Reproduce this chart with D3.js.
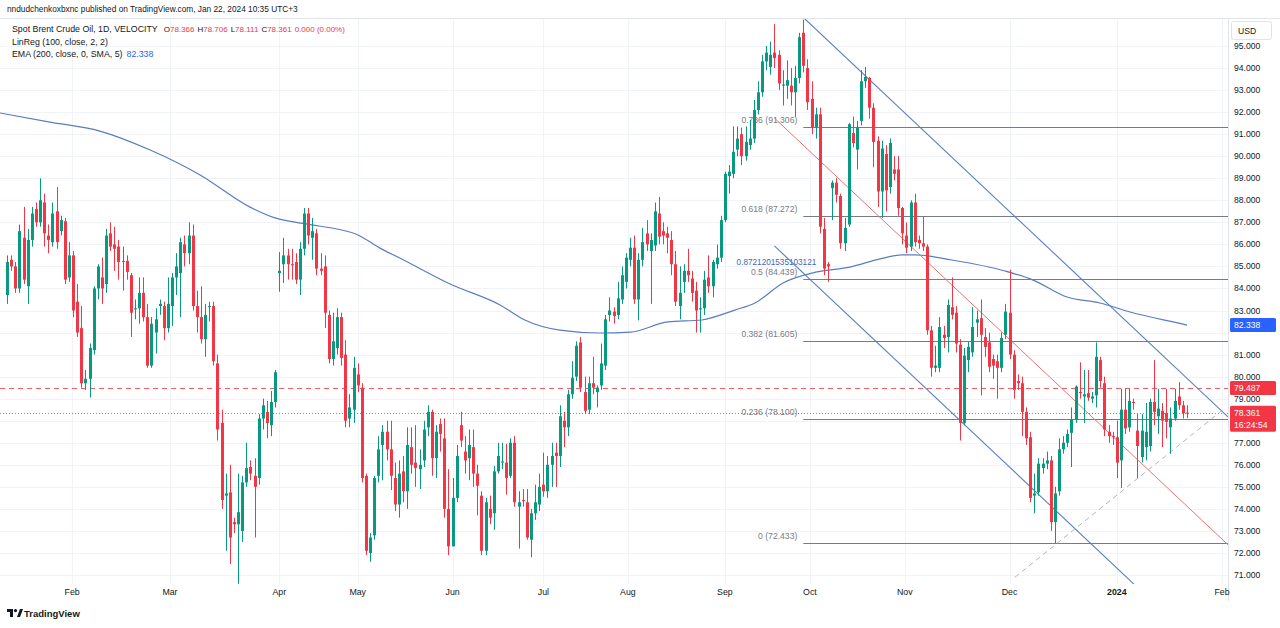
<!DOCTYPE html>
<html><head><meta charset="utf-8">
<script src="https://cdn.jsdelivr.net/npm/d3@7"></script>
<style>
html,body{margin:0;padding:0;background:#fff;}
svg{display:block;font-family:"Liberation Sans",Arial,sans-serif;}
</style></head><body>
<svg id="c" width="1280" height="628"></svg>
<script>
// ---------------- DATA ----------------
// daily candles [open, high, low, close]
const ohlc = [
[83.7,85.5,83.3,85.2],[85.3,85.5,84.8,85.0],[85.0,85.2,83.8,84.0],[84.0,86.9,83.8,86.6],[86.3,87.7,84.2,84.4],
[84.1,86.7,83.3,86.2],[86.2,87.7,85.9,87.4],[87.6,87.9,86.8,87.0],[87.0,89.0,86.8,88.0],[87.9,88.3,85.9,86.5],
[86.4,86.9,85.6,86.2],[86.1,87.9,85.9,87.4],[87.5,88.6,85.8,86.1],[86.6,87.3,86.4,87.1],[87.05,87.2,84.2,84.4],
[84.5,86.1,84.3,85.5],[85.5,85.7,82.7,83.0],[83.4,84.2,81.8,82.0],[82.2,83.2,79.5,79.7],[79.7,80.3,79.4,79.9],
[79.9,81.5,79.05,81.3],[81.2,84.1,81.0,84.0],[84.0,85.1,83.5,85.0],[84.5,85.4,83.3,84.0],[84.2,86.7,83.8,86.4],
[86.5,87.0,85.7,85.9],[86.0,86.8,84.8,85.8],[85.9,86.2,84.4,85.2],[85.25,85.9,83.9,85.25],[85.25,85.5,84.4,84.75],
[84.6,84.7,81.8,82.9],[83.1,83.5,82.6,83.1],[83.1,84.5,82.4,83.8],[83.8,84.5,82.5,82.7],[82.7,83.3,80.4,80.5],
[80.5,82.7,80.4,82.4],[82.0,83.1,81.05,82.6],[83.2,83.5,82.8,83.3],[83.2,83.4,81.65,82.2],[82.2,84.5,82.0,83.3],
[83.2,84.7,82.3,84.5],[84.5,85.6,83.7,85.0],[84.7,86.3,82.7,86.1],[86.0,86.4,85.0,85.6],[85.6,87.0,85.1,86.4],
[86.4,86.9,83.0,83.2],[83.2,83.9,82.0,82.7],[82.7,84.1,81.5,81.7],[81.7,83.3,80.9,82.8],[83.2,83.4,82.5,83.2],
[83.2,83.4,80.5,80.7],[80.6,81.0,77.1,77.6],[77.9,78.5,74.0,74.4],[74.6,75.6,72.1,74.7],[74.75,76.0,71.5,72.7],
[73.4,73.6,72.9,73.3],[73.3,75.6,70.6,73.85],[73.0,75.5,72.5,75.2],[75.2,77.0,75.0,75.85],[75.9,76.2,75.3,75.6],
[75.5,76.3,72.7,75.0],[75.4,78.3,75.1,78.1],[78.1,79.0,77.6,78.7],[78.4,78.9,77.2,77.9],[77.8,79.35,77.3,78.85],
[78.85,80.3,78.6,80.2],[84.7,85.65,83.85,84.8],[85.1,86.3,84.25,85.5],[85.5,85.8,84.4,85.1],[85.1,85.8,84.4,85.05],
[85.2,85.6,84.2,84.4],[84.4,86.1,83.7,85.8],[85.8,87.65,85.5,87.4],[87.4,87.65,86.0,86.4],[86.3,87.2,85.3,86.6],
[86.5,86.7,84.6,84.9],[84.9,85.6,84.6,84.8],[85.0,85.5,82.2,82.9],[82.8,83.0,80.6,80.8],[80.8,82.9,80.5,81.6],
[81.3,83.1,81.0,82.7],[82.7,82.9,80.5,80.85],[81.0,81.65,77.7,78.0],[78.1,79.2,77.7,78.6],[78.5,80.9,77.9,80.4],
[80.1,80.6,79.3,79.6],[79.5,79.7,75.2,75.4],[75.5,75.6,71.9,72.1],[72.0,72.9,71.6,72.7],[72.8,75.5,72.6,75.4],
[75.5,77.3,75.2,76.7],[76.9,77.8,75.3,77.5],[77.5,78.0,76.2,76.7],[76.7,78.0,74.85,75.5],[75.4,76.1,73.9,74.2],
[74.2,76.2,73.6,75.6],[75.7,76.4,74.3,74.8],[74.8,77.7,74.0,76.9],[76.8,77.7,75.6,76.0],[76.1,77.8,75.0,75.85],
[75.8,76.7,74.9,76.0],[76.2,78.0,75.9,77.6],[77.7,78.7,77.3,78.4],[78.4,78.5,75.5,76.3],[76.3,77.8,75.4,77.5],
[77.85,78.1,76.6,77.4],[77.2,78.1,73.6,74.0],[74.0,75.8,71.9,72.3],[72.3,75.4,72.3,74.5],[74.5,76.9,74.3,76.4],
[77.8,78.4,76.8,77.1],[76.6,77.3,75.6,76.2],[76.3,77.6,75.3,76.9],[76.8,77.6,75.0,75.6],[75.6,76.0,73.7,75.05],
[74.6,74.8,71.9,72.1],[72.1,74.5,71.9,74.3],[74.0,74.6,73.3,73.6],[73.8,75.95,73.05,75.7],[75.7,77.0,75.6,76.4],
[76.1,77.0,75.8,76.15],[76.1,76.95,74.65,75.4],[75.5,77.2,75.4,77.0],[77.0,77.3,74.1,74.3],[74.1,74.8,72.2,74.3],
[74.4,74.9,74.1,74.35],[74.3,74.9,72.6,72.7],[72.6,74.0,71.8,73.8],[73.8,75.1,73.5,74.3],[74.2,75.6,73.9,75.0],
[75.1,76.55,74.55,74.8],[74.8,76.4,74.5,76.0],[76.0,77.0,75.0,76.4],[76.55,77.0,75.0,76.4],[76.4,78.7,75.9,78.2],
[78.0,78.4,76.8,77.7],[77.7,79.4,77.3,79.2],[79.2,80.7,79.0,79.95],[80.0,81.6,79.8,81.4],[81.55,81.8,79.3,79.5],
[79.3,80.0,78.3,78.45],[78.5,80.0,78.3,79.7],[79.7,80.9,79.2,79.5],[79.3,79.6,78.6,79.5],[79.6,81.5,79.4,80.6],
[80.5,82.8,80.3,82.6],[82.8,83.6,82.5,83.0],[82.95,83.15,82.4,82.75],[82.8,84.3,82.6,83.55],[83.5,85.0,83.3,84.6],
[84.3,85.6,84.0,85.4],[85.3,86.3,85.0,85.85],[85.85,86.4,83.3,83.5],[83.5,85.6,82.55,85.3],[85.3,86.75,85.0,86.1],
[86.5,87.1,85.7,86.0],[85.7,86.5,83.3,86.2],[85.95,87.9,85.7,87.5],[87.4,88.15,86.0,86.35],[86.6,87.0,86.0,86.4],
[86.5,86.8,85.6,86.3],[86.2,86.6,84.6,85.1],[85.1,85.7,83.2,83.4],[83.2,85.0,82.6,83.8],[84.3,85.1,83.8,84.8],
[84.8,85.8,84.3,84.6],[84.45,84.8,83.4,83.8],[83.9,84.3,82.0,83.0],[83.05,83.6,82.0,83.1],[83.1,84.8,82.8,84.4],
[84.5,85.5,83.8,84.1],[84.1,85.3,83.6,85.2],[85.1,86.0,84.9,85.4],[85.4,87.3,85.2,87.1],[87.1,89.3,87.0,89.2],
[89.1,89.6,88.3,89.3],[89.2,91.35,89.0,90.2],[90.3,91.35,90.0,90.8],[91.0,91.3,89.6,90.0],[90.0,91.35,89.8,90.65],
[90.5,91.65,90.3,90.8],[90.8,92.55,90.6,92.1],[92.1,93.4,91.9,92.9],[92.9,94.6,92.7,94.3],[94.3,95.0,93.9,94.7],
[94.05,95.2,93.7,94.6],[94.7,96.0,94.0,94.45],[94.6,94.8,93.0,93.3],[93.2,93.9,92.3,93.25],[93.2,94.35,92.6,93.45],
[93.2,94.0,92.3,92.9],[92.9,94.1,91.8,93.55],[93.55,95.6,93.3,95.4],[95.6,96.2,93.8,94.1],[94.0,94.4,92.1,92.45],
[92.6,93.4,91.0,91.3],[91.3,92.2,90.8,91.9],[91.9,92.2,86.5,86.8],[86.7,87.2,84.6,84.9],[85.1,85.2,84.3,85.0],
[88.55,88.9,87.1,88.8],[88.8,89.0,87.9,88.25],[88.2,88.3,85.8,86.05],[86.05,87.2,85.7,86.75],[86.9,91.5,86.8,91.45],
[91.05,91.8,90.4,90.6],[90.3,91.6,89.4,91.3],[91.6,93.9,91.4,93.4],[93.4,94.05,93.1,93.6],[93.55,93.6,91.7,92.2],
[92.2,92.4,89.5,90.65],[90.7,90.9,87.7,88.4],[88.4,90.7,87.2,90.35],[90.1,90.5,87.5,88.45],[88.6,90.8,88.3,90.6],
[89.4,90.0,88.9,89.2],[89.4,90.0,87.3,87.65],[87.65,87.7,86.0,86.5],[86.4,87.0,85.6,85.85],[85.9,88.0,85.7,87.9],
[87.9,88.3,85.9,86.1],[86.2,86.4,85.8,86.05],[86.05,87.25,85.7,85.9],[85.9,86.0,81.9,82.1],[82.1,82.3,80.0,80.4],
[80.4,81.4,80.2,80.5],[80.4,82.7,80.2,82.25],[81.9,82.3,81.3,81.75],[81.8,83.5,81.1,83.25],[83.15,84.5,82.6,82.8],
[82.9,83.2,81.1,81.5],[81.45,81.7,77.1,77.9],[77.9,81.3,77.8,80.95],[80.75,81.6,80.2,81.35],[81.1,83.15,80.9,82.25],
[82.45,83.0,81.8,82.6],[82.65,83.5,79.15,81.9],[81.8,82.2,80.9,81.35],[81.55,82.0,80.2,80.45],[80.8,81.0,79.9,80.5],
[80.7,81.0,79.0,80.4],[80.4,82.0,80.2,81.75],[81.9,83.3,81.7,82.95],[82.9,84.85,80.8,81.0],[81.0,81.2,79.0,79.4],
[79.8,80.1,79.4,79.7],[79.7,80.0,77.3,78.4],[78.4,78.6,76.9,77.2],[77.25,77.5,74.3,74.5],[74.6,75.6,73.8,74.7],
[74.75,76.3,74.6,76.05],[75.85,76.3,75.6,76.05],[76.05,76.6,75.8,76.2],[76.2,76.4,73.0,73.4],[73.4,75.0,72.45,74.7],
[74.8,77.2,74.6,76.7],[76.7,77.3,76.5,77.0],[77.0,77.6,76.8,77.4],[77.45,78.6,75.9,78.05],[78.05,79.6,77.9,79.55],
[79.3,80.65,79.0,79.25],[79.1,80.3,77.9,79.2],[79.25,80.3,78.9,79.05],[79.0,79.3,78.8,79.1],[79.15,81.55,78.6,80.9],
[80.75,80.9,79.5,79.8],[79.7,80.0,77.3,77.6],[77.5,77.8,77.0,77.3],[77.3,77.5,76.9,77.25],[77.25,78.0,75.4,76.1],
[76.2,79.45,74.95,78.5],[78.5,79.45,77.4,77.65],[77.7,79.45,77.5,78.9],[78.85,79.0,78.5,78.8],[77.55,78.3,75.4,76.85],
[76.35,78.3,76.1,77.55],[76.8,78.8,76.2,77.5],[76.85,79.0,76.6,78.85],[78.85,80.75,77.8,78.4],[78.2,79.45,77.4,78.55],
[78.45,78.8,76.8,78.0],[78.35,79.45,77.2,77.95],[77.7,78.6,76.5,78.1],[78.1,79.45,78.0,78.9],[79.1,79.75,78.5,78.7],
[78.7,78.9,78.1,78.35],[78.366,78.706,78.111,78.361]
];

// time axis labels (bar index of first session of the month)
const monthLabels = ["Feb","Mar","Apr","May","Jun","Jul","Aug","Sep","Oct","Nov","Dec","2024","Feb"];
const monthIdx    = [15.8, 39.5, 66, 85, 108, 130, 150.5, 174, 194.6, 217.6, 243, 269, 294.5];

// price axis ticks
const priceTicks = [71,72,73,74,75,76,77,78,79,80,81,82,83,84,85,86,87,88,89,90,91,92,93,94,95];

// EMA(200) readings: bar index / value
const emaIdx = [-1.7, 10.4, 22.5, 34.7, 46.8, 58.9, 65, 71.7, 84.8, 90.4, 95.2, 107.4, 119.5, 125.5, 134, 143.7, 151, 160.2, 168.4, 176.4, 181.3, 188.1, 196.3, 204.3, 211.6, 216.9, 220.1, 229, 241.9, 248.7, 256.9, 264.9, 272.2, 285.5, 286];
const emaVal = [91.96, 91.55, 91.14, 90.28, 89.15, 87.69, 87.2, 86.95, 86.45, 85.83, 85.38, 84.2, 83.25, 82.57, 82.11, 81.98, 82.02, 82.48, 82.57, 83.02, 83.34, 84.25, 84.75, 84.97, 85.34, 85.52, 85.52, 85.29, 84.79, 84.38, 83.61, 83.34, 82.93, 82.36, 82.338];

// LinReg(100) channel: base line anchors and deviation
const linRegIdx = [186, 296];
const linRegBase = [91.73, 72.36];
const linRegDev = 5.8;

// Fibonacci retracement
const fibRatios = ["0", "0.236", "0.382", "0.5", "0.618", "0.786"];
const fibPrices = [72.433, 78.100, 81.605, 84.439, 87.272, 91.306];
const fibStartIdx = 193;
const fibNote = "0.8721201535103121";
const fibNotePrice = 85.2;

// dashed support trendline
const trendIdx = [244.3, 294.2];
const trendVal = [70.9, 78.42];

// reference prices
const prevClose = 79.487;
const lastPrice = 78.361;
const emaLast = 82.338;

// ---------------- DRAW ----------------
const svg = d3.select("#c");
const paneL = 0, paneR = 1228, paneT = 19, paneB = 584;
const x = d3.scaleLinear().domain([0, 286]).range([7, 1187]);
const y = d3.scaleLinear().domain([71, 95]).range([575, 46]);

const UP = "#089981", DOWN = "#f23645", TXT = "#131722";

svg.append("rect").attr("width",1280).attr("height",628).attr("fill","#fff");

svg.append("defs").append("clipPath").attr("id","pane")
  .append("rect").attr("x",paneL).attr("y",paneT).attr("width",paneR-paneL).attr("height",paneB-paneT);

// grid
const grid = svg.append("g");
grid.selectAll("line.h").data(priceTicks).join("line")
  .attr("x1",paneL).attr("x2",paneR)
  .attr("y1",d=>Math.round(y(d))+0.5).attr("y2",d=>Math.round(y(d))+0.5)
  .attr("stroke","#f0f3fa").attr("stroke-width",1);
grid.selectAll("line.v").data(monthIdx).join("line")
  .attr("x1",d=>Math.round(x(d))+0.5).attr("x2",d=>Math.round(x(d))+0.5)
  .attr("y1",paneT).attr("y2",paneB)
  .attr("stroke","#f0f3fa").attr("stroke-width",1);

const pane = svg.append("g").attr("clip-path","url(#pane)");

// reference horizontal lines
pane.append("line").attr("x1",paneL).attr("x2",paneR)
  .attr("y1",Math.round(y(prevClose))+0.5).attr("y2",Math.round(y(prevClose))+0.5)
  .attr("stroke",DOWN).attr("stroke-width",1).attr("stroke-dasharray","5,4").attr("opacity",0.8);
pane.append("line").attr("x1",paneL).attr("x2",paneR)
  .attr("y1",Math.round(y(lastPrice))+0.5).attr("y2",Math.round(y(lastPrice))+0.5)
  .attr("stroke","#8a8d96").attr("stroke-width",1).attr("stroke-dasharray","1,2");

// fib lines
pane.selectAll("line.fib").data(fibPrices).join("line")
  .attr("x1",x(fibStartIdx)).attr("x2",paneR)
  .attr("y1",d=>Math.round(y(d))+0.5).attr("y2",d=>Math.round(y(d))+0.5)
  .attr("stroke","#787b86").attr("stroke-width",1);
pane.selectAll("text.fib").data(fibPrices).join("text")
  .attr("x",x(fibStartIdx)-6).attr("y",d=>y(d)-4)
  .attr("text-anchor","end").attr("font-size","8.6px").attr("fill","#787b86")
  .text((d,i)=>`${fibRatios[i]} (${d.toFixed(3)})`);
pane.append("text").attr("x",x(fibStartIdx)+13).attr("y",y(fibNotePrice)+3)
  .attr("text-anchor","end").attr("font-size","8.2px").attr("fill","#3f66b5")
  .text(fibNote);

// EMA
const ema = emaIdx.map((d,i)=>[d,emaVal[i]]);
pane.append("path").datum(ema)
  .attr("d",d3.line().x(d=>x(d[0])).y(d=>y(d[1])).curve(d3.curveMonotoneX))
  .attr("fill","none").attr("stroke","#5a7dc0").attr("stroke-width",1.2);

// LinReg channel
const lr = k => linRegIdx.map((d,i)=>[d, linRegBase[i]+k*linRegDev]);
const seg = d3.line().x(d=>x(d[0])).y(d=>y(d[1]));
pane.append("path").datum(lr(0)).attr("d",seg).attr("fill","none").attr("stroke","#e57373").attr("stroke-width",1);
pane.append("path").datum(lr(1)).attr("d",seg).attr("fill","none").attr("stroke","#5a7dc0").attr("stroke-width",1.1);
pane.append("path").datum(lr(-1)).attr("d",seg).attr("fill","none").attr("stroke","#5a7dc0").attr("stroke-width",1.1);

// trendline
pane.append("path").datum(trendIdx.map((d,i)=>[d,trendVal[i]])).attr("d",seg)
  .attr("fill","none").attr("stroke","#b2b5be").attr("stroke-width",1).attr("stroke-dasharray","5,4");

// candles
const cg = pane.append("g");
const c = cg.selectAll("g").data(ohlc).join("g");
c.append("line")
  .attr("x1",(d,i)=>Math.round(x(i))+0.5).attr("x2",(d,i)=>Math.round(x(i))+0.5)
  .attr("y1",d=>y(d[1])).attr("y2",d=>y(d[2]))
  .attr("stroke",d=>d[3]>=d[0]?UP:DOWN).attr("stroke-width",1);
c.append("rect")
  .attr("x",(d,i)=>Math.round(x(i))-1).attr("width",3)
  .attr("y",d=>y(Math.max(d[0],d[3])))
  .attr("height",d=>Math.max(1,Math.abs(y(d[0])-y(d[3]))))
  .attr("fill",d=>d[3]>=d[0]?UP:DOWN);

// pane borders
svg.append("line").attr("x1",paneR+0.5).attr("x2",paneR+0.5).attr("y1",paneT).attr("y2",601).attr("stroke","#e0e3eb");
svg.append("line").attr("x1",0).attr("x2",1280).attr("y1",paneT-0.5).attr("y2",paneT-0.5).attr("stroke","#e0e3eb");

// price axis tags
const tags = [
  {val: emaLast, color: "#2962ff", lines: [d3.format(".3f")(emaLast)]},
  {val: prevClose, color: DOWN, lines: [d3.format(".3f")(prevClose)]},
  {val: lastPrice, color: DOWN, lines: [d3.format(".3f")(lastPrice), "16:24:54"]}
];
tags.forEach(t=>{ t.top = y(t.val)-7; t.bot = t.top + t.lines.length*12 + 2; });

// price axis labels (hidden where a tag covers them)
const ax = svg.append("g");
ax.selectAll("text").data(priceTicks.filter(v=>!tags.some(t=>y(v)>=t.top-3 && y(v)<=t.bot+3))).join("text")
  .attr("x",1234).attr("y",d=>y(d)+3)
  .attr("font-size","8.6px").attr("fill",TXT)
  .text(d=>d3.format(".3f")(d));

tags.forEach(t=>{
  const g = svg.append("g");
  g.append("rect").attr("x",1230).attr("y",t.top).attr("width",46).attr("height",t.bot-t.top).attr("rx",1.5).attr("fill",t.color);
  t.lines.forEach((s,i)=>g.append("text").attr("x",1234).attr("y",y(t.val)+3+i*12)
    .attr("font-size","8.6px").attr("fill","#fff").text(s));
});

// USD box
svg.append("rect").attr("x",1231.5).attr("y",21.5).attr("width",40).attr("height",18).attr("rx",2)
  .attr("fill","#fff").attr("stroke","#e0e3eb");
svg.append("text").attr("x",1238).attr("y",34).attr("font-size","8.6px").attr("fill",TXT).text("USD");

// time axis
svg.selectAll("text.m").data(monthLabels).join("text")
  .attr("x",(d,i)=>x(monthIdx[i])).attr("y",595)
  .attr("text-anchor","middle").attr("font-size","8.8px").attr("fill",TXT)
  .attr("font-weight",d=>d==="2024"?"bold":"normal")
  .text(d=>d);

// header
svg.append("text").attr("x",7).attr("y",12).attr("font-size","8.3px").attr("fill",TXT)
  .text("nndudchenkoxbxnc published on TradingView.com, Jan 22, 2024 10:35 UTC+3");

const leg1 = svg.append("text").attr("x",12).attr("y",32).attr("font-size","8.8px").attr("fill",TXT);
leg1.append("tspan").text("Spot Brent Crude Oil, 1D, VELOCITY");
const last = ohlc[ohlc.length-1];
[["O",last[0]],["H",last[1]],["L",last[2]],["C",last[3]]].forEach(([k,v],i)=>{
  leg1.append("tspan").attr("dx", i===0?6:3).attr("font-size","8px").attr("fill",TXT).text(k);
  leg1.append("tspan").attr("font-size","8px").attr("fill",DOWN).text(v.toFixed(3));
});
leg1.append("tspan").attr("dx",3).attr("font-size","8px").attr("fill",DOWN).text("0.000 (0.00%)");

svg.append("text").attr("x",12).attr("y",45).attr("font-size","8.8px").attr("fill",TXT)
  .text("LinReg (100, close, 2, 2)");
const leg3 = svg.append("text").attr("x",12).attr("y",57).attr("font-size","8.8px").attr("fill",TXT);
leg3.append("tspan").text("EMA (200, close, 0, SMA, 5)");
leg3.append("tspan").attr("dx",4).attr("fill","#2962ff").text(d3.format(".3f")(emaLast));

// footer logo
const logo = svg.append("g").attr("transform","translate(7,609)");
logo.append("path").attr("d","M0 0 H6 V8 H3 V3 H0 Z").attr("fill",TXT);
logo.append("circle").attr("cx",8.5).attr("cy",1.6).attr("r",1.6).attr("fill",TXT);
logo.append("path").attr("d","M10 8 L13 0 H16 L13 8 Z").attr("fill",TXT);
svg.append("text").attr("x",24).attr("y",617).attr("font-size","9.5px").attr("font-weight","bold")
  .attr("fill",TXT).text("TradingView");
</script>
</body></html>
